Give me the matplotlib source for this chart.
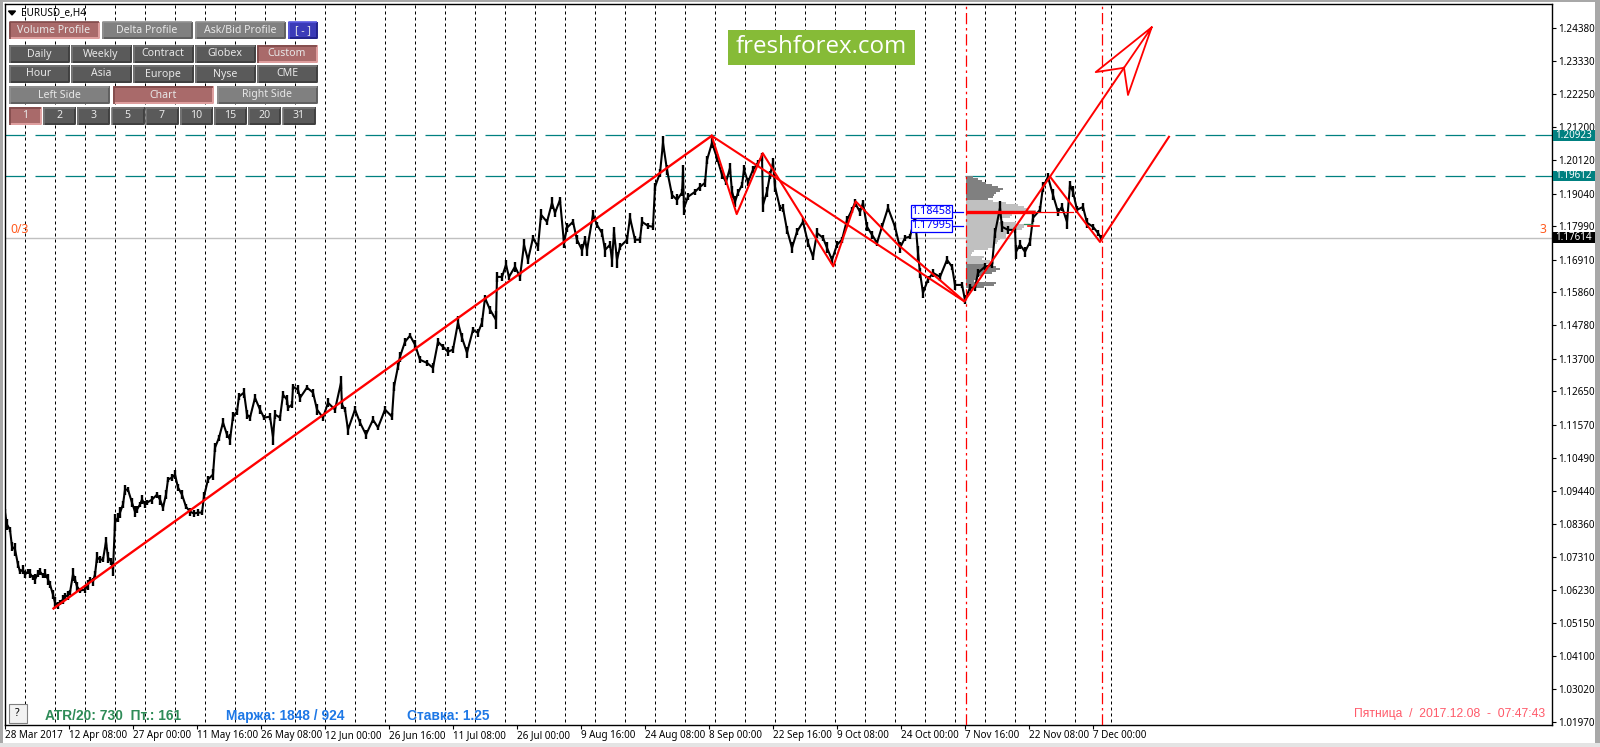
import matplotlib
matplotlib.use("Agg")
import matplotlib.pyplot as plt
from matplotlib.patches import Rectangle

plt.rcParams['font.family'] = ['Noto Sans', 'DejaVu Sans']

# price series (chart position, price in 1/10000)
bars = [
    5, 7, 10, 12, 15, 18, 20, 23, 25, 28,
    30, 33, 35, 38, 40, 43, 45, 48, 50, 53,
    55, 58, 60, 63, 65, 68, 70, 73, 75, 77,
    80, 85, 88, 90, 93, 95, 97, 100, 103, 106,
    108, 111, 113, 115, 118, 120, 123, 125, 128, 132,
    135, 137, 140, 142, 145, 147, 152, 157, 160, 163,
    166, 168, 172, 175, 178, 182, 186, 190, 194, 198,
    202, 204, 208, 213, 215, 219, 223, 227, 230, 233,
    237, 239, 244, 247, 250, 255, 260, 264, 270, 273,
    275, 280, 283, 287, 288, 292, 293, 298, 300, 307,
    313, 317, 323, 328, 335, 341, 342, 345, 348, 355,
    360, 366, 373, 378, 385, 392, 394, 398, 400, 405,
    410, 415, 420, 427, 433, 438, 443, 448, 453, 458,
    462, 467, 473, 478, 482, 485, 490, 496, 497, 502,
    506, 509, 515, 520, 524, 528, 533, 538, 541, 547,
    552, 555, 560, 564, 567, 573, 577, 582, 585, 587,
    593, 597, 602, 605, 610, 612, 614, 617, 620, 627,
    630, 635, 640, 642, 648, 653, 655, 660, 663, 667,
    672, 677, 682, 683, 684, 688, 695, 700, 705, 707,
    712, 717, 722, 726, 730, 732, 735, 738, 742, 744,
    748, 753, 758, 762, 763, 767, 770, 773, 775, 780,
    783, 787, 792, 797, 803, 808, 813, 817, 823, 827,
    832, 837, 842, 847, 852, 855, 860, 863, 867, 872,
    877, 882, 888, 895, 900, 905, 910, 915, 918, 920,
    923, 928, 933, 940, 947, 952, 955, 962, 965, 970,
    975, 978, 985, 992, 995, 1000, 1002, 1008, 1015, 1016,
    1020, 1025, 1030, 1033, 1040, 1043, 1048, 1053, 1058, 1062,
    1067, 1070, 1073, 1077, 1083, 1087, 1093, 1098, 1101,
]
closes = [
    10873, 10834, 10818, 10763, 10754, 10705, 10682, 10689, 10673, 10682,
    10676, 10663, 10657, 10676, 10682, 10670, 10676, 10657, 10640, 10608,
    10582, 10573, 10582, 10592, 10602, 10605, 10615, 10673, 10657, 10634,
    10621, 10624, 10640, 10657, 10650, 10673, 10728, 10721, 10721, 10779,
    10728, 10715, 10689, 10841, 10857, 10873, 10899, 10947, 10947, 10905,
    10876, 10883, 10899, 10915, 10899, 10905, 10915, 10931, 10915, 10889,
    10931, 10980, 10986, 10996, 10954, 10931, 10892, 10876, 10870, 10873,
    10873, 10925, 10980, 10996, 11083, 11115, 11164, 11125, 11109, 11183,
    11199, 11248, 11261, 11190, 11180, 11244, 11206, 11180, 11183, 11118,
    11190, 11180, 11254, 11238, 11212, 11222, 11280, 11270, 11244, 11277,
    11261, 11206, 11180, 11228, 11206, 11293, 11222, 11206, 11141, 11206,
    11164, 11125, 11173, 11148, 11206, 11183, 11280, 11345, 11377, 11425,
    11445, 11416, 11367, 11357, 11341, 11425, 11409, 11393, 11400, 11487,
    11438, 11390, 11464, 11454, 11487, 11567, 11529, 11496, 11635, 11635,
    11674, 11635, 11668, 11635, 11739, 11690, 11761, 11732, 11836, 11813,
    11874, 11842, 11884, 11745, 11794, 11813, 11755, 11722, 11755, 11722,
    11836, 11803, 11777, 11722, 11739, 11690, 11781, 11690, 11732, 11755,
    11826, 11755, 11755, 11813, 11800, 11797, 11926, 11971, 12068, 11981,
    11900, 11884, 11907, 11974, 11858, 11894, 11910, 11926, 11939, 12013,
    12068, 12020, 11965, 11942, 11987, 11910, 11878, 11907, 11932, 11981,
    11942, 11981, 12004, 12023, 11868, 11910, 11965, 12004, 11926, 11858,
    11858, 11787, 11729, 11781, 11813, 11745, 11700, 11777, 11761, 11729,
    11690, 11739, 11755, 11819, 11852, 11874, 11845, 11874, 11797, 11771,
    11745, 11797, 11858, 11797, 11729, 11761, 11765, 11829, 11713, 11648,
    11584, 11626, 11648, 11635, 11690, 11668, 11609, 11609, 11561, 11600,
    11600, 11648, 11668, 11674, 11777, 11858, 11797, 11787, 11787, 11716,
    11739, 11716, 11748, 11826, 11852, 11926, 11958, 11900, 11845, 11861,
    11813, 11932, 11910, 11852, 11861, 11810, 11797, 11777, 11761,
]
# half height of the bars at those places
spreads = [
    12, 18, 9, 14, 20, 10, 8, 15, 11, 7,
    13, 9, 16, 10, 12, 8, 14, 17, 11, 15,
    18, 12, 9, 16, 10, 13, 8, 20, 12, 14,
    9, 11, 16, 8, 13, 10, 18, 12, 9, 14,
    17, 10, 22, 28, 14, 18, 12, 16, 9, 14,
    18, 11, 8, 15, 12, 9, 13, 10, 16, 12,
    14, 9, 12, 16, 11, 14, 9, 13, 10, 12,
    8, 16, 12, 18, 14, 10, 15, 12, 18, 14,
    9, 12, 16, 14, 10, 12, 15, 9, 11, 26,
    14, 10, 12, 16, 9, 12, 10, 14, 12, 9,
    13, 18, 12, 14, 10, 20, 14, 9, 16, 12,
    10, 14, 11, 9, 13, 12, 14, 10, 16, 12,
    9, 14, 11, 10, 16, 12, 9, 14, 10, 22,
    14, 18, 10, 12, 14, 11, 13, 30, 16, 12,
    14, 9, 16, 12, 18, 14, 11, 13, 18, 10,
    20, 12, 9, 18, 14, 10, 14, 20, 12, 18,
    14, 10, 12, 22, 12, 24, 14, 26, 11, 14,
    16, 12, 9, 14, 10, 11, 14, 12, 24, 16,
    14, 18, 12, 24, 22, 11, 10, 12, 13, 14,
    16, 12, 14, 11, 16, 20, 18, 12, 10, 16,
    14, 11, 10, 12, 24, 16, 12, 14, 18, 10,
    12, 14, 18, 12, 11, 14, 12, 16, 10, 18,
    14, 11, 10, 12, 9, 14, 12, 11, 14, 12,
    10, 11, 14, 12, 18, 10, 9, 16, 22, 16,
    18, 12, 14, 12, 14, 10, 16, 11, 14, 12,
    10, 14, 12, 11, 16, 22, 18, 12, 10, 22,
    14, 16, 12, 14, 12, 16, 12, 18, 14, 12,
    22, 14, 18, 12, 14, 16, 10, 9, 8,
]

# red trend lines
trend_x = [53.5, 711.7]
trend_y = [10563, 12091]
zigzag_x = [711.7, 736.7, 762.7, 833.3, 855.7, 898, 943, 964.3]
zigzag_y = [12091, 11838, 12035, 11669, 11879, 11739, 11616, 11556]
swing_x = [711.7, 964.3, 1050, 1100, 1169]
swing_y = [12091, 11556, 11959, 11748, 12088]
shaft_x = [1050, 1124]
shaft_y = [11959, 12311]
arrow_x = [1124, 1095.7, 1151.7, 1128, 1124, 1151.7]
arrow_y = [12311, 12297, 12442, 12223, 12311, 12442]

# price levels
level_high = 1.20923
level_low = 1.19612
last_price = 1.17614
poc_price = 1.18458
vah_price = 1.17995
selection_x = [966, 1102.3]

# volume profile
profile_price = [
    11958, 11952, 11945, 11939, 11932, 11926, 11920, 11913, 11907, 11900,
    11894, 11887, 11881, 11874, 11868, 11861, 11855, 11848, 11842, 11836,
    11829, 11823, 11816, 11810, 11803, 11797, 11790, 11784, 11777, 11771,
    11765, 11758, 11752, 11745, 11739, 11732, 11726, 11719, 11713, 11706,
    11700, 11693, 11687, 11680, 11674, 11668, 11661, 11655, 11648, 11642,
    11635, 11629, 11622, 11616, 11609, 11603,
]
profile_size = [
    7, 12, 16, 20, 26, 32, 37, 34, 30, 28,
    27, 22, 27, 40, 52, 58, 62, 70, 52, 46,
    44, 34, 33, 50, 58, 58, 56, 42, 42, 40,
    40, 34, 32, 31, 29, 28, 22, 8, 6, 5,
    18, 16, 24, 28, 20, 30, 34, 30, 26, 16,
    12, 10, 8, 30, 28, 18,
]

# axis labels
y_ticks = [1.24380, 1.23330, 1.22250, 1.21200, 1.20120, 1.19040, 1.17990, 1.16910,
           1.15860, 1.14780, 1.13700, 1.12650, 1.11570, 1.10490, 1.09440, 1.08360,
           1.07310, 1.06230, 1.05150, 1.04100, 1.03020, 1.01970]
x_labels = ["28 Mar 2017", "12 Apr 08:00", "27 Apr 00:00", "11 May 16:00", "26 May 08:00",
            "12 Jun 00:00", "26 Jun 16:00", "11 Jul 08:00", "26 Jul 00:00", "9 Aug 16:00",
            "24 Aug 08:00", "8 Sep 00:00", "22 Sep 16:00", "9 Oct 08:00", "24 Oct 00:00",
            "7 Nov 16:00", "22 Nov 08:00", "7 Dec 00:00"]
x_ticks = [5 + 64 * i for i in range(len(x_labels))]
separators = list(range(25, 1076, 30)) + [1111]

W, H = 1600, 747
fig = plt.figure(figsize=(16, 7.47), dpi=100, facecolor="white")
ax = fig.add_axes([4.7 / W, (H - 724.5) / H, 1547 / W, 720.5 / H])
ax.set_xlim(4.7, 1551.7)
ax.set_ylim(1.01879, 1.25172)

ax.vlines(separators, 1.0197, 1.25172, color="black", lw=0.72, linestyles=(0, (3, 3)), zorder=1)
ax.axhline(last_price, color="#c0c0c0", lw=1.0, zorder=1)
for lv in (level_high, level_low):
    ax.axhline(lv, color="#008080", lw=0.9, linestyle=(0, (16, 8)), zorder=2)

# profile
for p, s in zip(profile_price, profile_size):
    col = "#c0c0c0" if 11677 <= p <= 11884 else "#808080"
    ax.barh(p / 10000, s, height=0.00072, left=966, color=col, lw=0, zorder=2)

prices = [c / 10000 for c in closes]
ax.plot(bars, prices, color="black", lw=1.5, zorder=3)
ax.vlines(bars, [(c - s) / 10000 for c, s in zip(closes, spreads)],
          [(c + s) / 10000 for c, s in zip(closes, spreads)], color="black", lw=1.7, zorder=3)

for x in selection_x:
    ax.axvline(x, color="red", lw=0.9, linestyle=(0, (9, 3, 2, 3)), zorder=4)

red = "#ff0000"
ax.plot(trend_x, [v / 10000 for v in trend_y], color=red, lw=1.7, zorder=5)
ax.plot(zigzag_x, [v / 10000 for v in zigzag_y], color=red, lw=1.5, zorder=5)
ax.plot(swing_x, [v / 10000 for v in swing_y], color=red, lw=1.5, zorder=5)
ax.plot(shaft_x, [v / 10000 for v in shaft_y], color=red, lw=1.4, zorder=5)
ax.plot(arrow_x, [v / 10000 for v in arrow_y], color=red, lw=1.3, zorder=5)

ax.plot([966, 1035], [poc_price, poc_price], color=red, lw=2.4, zorder=5, solid_capstyle="butt")
ax.plot([1035, 1073], [poc_price, poc_price], color=red, lw=0.9, zorder=5)
ax.plot([1024, 1032], [vah_price + 0.0006, vah_price + 0.0006], color="#2e8b57", lw=0.9, zorder=5)
ax.plot([1028, 1039], [vah_price, vah_price], color=red, lw=1.2, zorder=5)

for p in (poc_price, vah_price):
    ax.plot([952, 963], [p, p], color="#0000ff", lw=0.9, zorder=6)
    ax.text(931.5, p, f"{p:.5f}", color="#0000ff", fontsize=7.8, ha="center", va="center", zorder=7,
            bbox=dict(boxstyle="square,pad=0.08", fc="white", ec="#0000ff", lw=0.9))

# axes look
for sp in ax.spines.values():
    sp.set_linewidth(1.0)
ax.yaxis.tick_right()
ax.set_yticks(y_ticks)
ax.set_yticklabels([f"{v:.5f}" for v in y_ticks], fontsize=7.1, color="black")
ax.tick_params(axis="y", length=3, width=0.8, pad=2)
ax.set_xticks(x_ticks)
ax.set_xticklabels(x_labels, fontsize=7.1, ha="left", color="black")
ax.tick_params(axis="x", length=3, width=0.8, pad=1)

# price tags
tagged = [(level_high, "#008080"), (level_low, "#008080"), (last_price, "black")]
trans = ax.get_yaxis_transform()
for p, col in tagged:
    ax.add_patch(Rectangle((1.0006, p - 0.00175), 0.0272, 0.0035, transform=trans,
                           fc=col, ec="none", clip_on=False, zorder=8))
    ax.text(1.0143, p, f"{p:.5f}", transform=trans, color="white", fontsize=7.1,
            ha="center", va="center", clip_on=False, zorder=9)

ax.text(10, 1.1787, "0/3", color="#ff5a1e", fontsize=8.8, va="center")
ax.text(1542.5, 1.1787, "3", color="#ff5a1e", fontsize=8.8, ha="center", va="center")

# overlay in screen pixels: buttons, logo, status texts
ui = fig.add_axes([0, 0, 1, 1], facecolor="none")
ui.set_xlim(0, W)
ui.set_ylim(H, 0)
ui.axis("off")

ui.add_patch(Rectangle((0, 0), W, 1.5, fc="#a8a8a8", ec="none"))
ui.add_patch(Rectangle((0, 0), 2.5, H, fc="#a8a8a8", ec="none"))
ui.add_patch(Rectangle((1594.5, 0), 6, H, fc="#a8a8a8", ec="none"))
ui.add_patch(Rectangle((0, 743), W, 4, fc="#e4e4e4", ec="none"))

PINK, LIGHT, DARK, BLUE = "#a96a6a", "#808080", "#5a5a5a", "#3b3bb8"
EDGES = {PINK: ("#804a4a", "#e0a0a0"), LIGHT: ("#909090", "#606060"),
         DARK: ("#787878", "#404040"), BLUE: ("#5a5ae0", "#24248c")}


def button(x0, x1, y0, y1, label, col):
    ui.add_patch(Rectangle((x0, y0), x1 - x0, y1 - y0, fc=col, ec="none", zorder=3))
    top, bottom = EDGES[col]
    ui.plot([x0, x1, x1], [y1 - 1, y1 - 1, y0], color=bottom, lw=1.4, zorder=4, solid_capstyle="butt")
    ui.plot([x0 + 0.5, x0 + 0.5, x1], [y1, y0 + 0.5, y0 + 0.5], color=top, lw=1.2, zorder=4, solid_capstyle="butt")
    ui.text((x0 + x1) / 2, (y0 + y1) / 2, label, color="#e8e8e8", fontsize=7.6,
            ha="center", va="center", zorder=5)


row1 = [("Volume Profile", 9, 99, PINK), ("Delta Profile", 102, 192, LIGHT),
        ("Ask/Bid Profile", 195, 285, LIGHT), ("[ - ]", 288, 317, BLUE)]
for lab, a, b, c in row1:
    button(a, b, 21.5, 39, lab, c)
for i, lab in enumerate(["Daily", "Weekly", "Contract", "Globex", "Custom"]):
    button(9 + 62 * i, 69 + 62 * i, 45, 63, lab, PINK if lab == "Custom" else DARK)
for i, lab in enumerate(["Hour", "Asia", "Europe", "Nyse", "CME"]):
    button(9 + 62 * i, 69 + 62 * i, 65, 83, lab, DARK)
for lab, a, b, c in [("Left Side", 9, 109, LIGHT), ("Chart", 113, 213, PINK), ("Right Side", 217, 317, LIGHT)]:
    button(a, b, 86, 104, lab, c)
for i, lab in enumerate(["1", "2", "3", "5", "7", "10", "15", "20", "31"]):
    button(9 + 34.2 * i, 41 + 34.2 * i, 107, 125, lab, PINK if i == 0 else DARK)

ui.fill([8.5, 15.5, 12], [11, 11, 15], color="black")
ui.text(20.5, 12.5, "EURUSD_e,H4", color="black", fontsize=7.2, va="center")

ui.add_patch(Rectangle((728, 30), 187, 35, fc="#86bb37", ec="none", zorder=3))
ui.text(821.5, 47, "freshforex.com", color="white", fontsize=17.4, family="Open Sans",
        ha="center", va="center", zorder=4)

ui.add_patch(Rectangle((8.5, 703.5), 18.5, 19.5, fc="#f2f2f2", ec="#808080", lw=0.8, zorder=3))
ui.text(17.5, 713, "?", color="black", fontsize=7.5, ha="center", va="center", zorder=4)

bold = ["Liberation Sans", "DejaVu Sans"]
ui.text(45, 716, "ATR/20: 730  Пт.: 161", color="#2e8b57", fontsize=9.9, family=bold,
        weight="bold", va="center")
ui.text(226, 716, "Маржа: 1848 / 924", color="#1e78e6", fontsize=9.9, family=bold,
        weight="bold", va="center")
ui.text(407, 716, "Ставка: 1.25", color="#1e78e6", fontsize=9.9, family=bold,
        weight="bold", va="center")
ui.text(1545.5, 714, "Пятница  /  2017.12.08  -  07:47:43", color="#ff5a6a", fontsize=8.7,
        family=bold, ha="right", va="center")

fig.savefig("out.png", dpi=100)
